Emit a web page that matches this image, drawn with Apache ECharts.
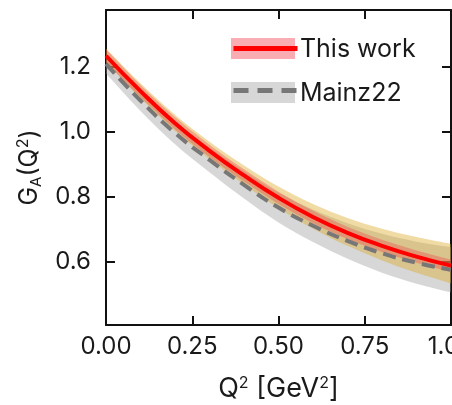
<!DOCTYPE html>
<html>
<head>
<meta charset="utf-8">
<script src="https://cdn.jsdelivr.net/npm/echarts@6/dist/echarts.min.js"></script>
<style>
html,body{margin:0;padding:0;background:#fff;}
#c{width:452px;height:405px;}
</style>
</head>
<body>
<div id="c"></div>
<script>
// ---- data ----
const q2 = [0.0, 0.1, 0.2, 0.3, 0.4, 0.5, 0.6, 0.7, 0.8, 0.9, 1.0];
// This work: central curve
const thisWork = [1.235, 1.126, 1.027, 0.942, 0.866, 0.797, 0.738, 0.689, 0.649, 0.616, 0.588];
const thisWorkLo = [1.215, 1.107, 1.008, 0.923, 0.847, 0.778, 0.719, 0.670, 0.630, 0.597, 0.569];
const thisWorkHi = [1.255, 1.145, 1.046, 0.961, 0.885, 0.816, 0.757, 0.708, 0.668, 0.635, 0.607];
// This work: wider (orange) band
const wideLo = [1.215, 1.104, 1.003, 0.916, 0.837, 0.765, 0.702, 0.649, 0.604, 0.566, 0.533];
const wideHi = [1.257, 1.150, 1.053, 0.970, 0.897, 0.832, 0.778, 0.735, 0.702, 0.676, 0.655];
// Mainz22
const mainz = [1.210, 1.097, 0.997, 0.914, 0.837, 0.767, 0.711, 0.664, 0.626, 0.597, 0.575];
const mainzLo = [1.180, 1.065, 0.962, 0.876, 0.795, 0.721, 0.661, 0.609, 0.566, 0.532, 0.505];
const mainzHi = [1.240, 1.129, 1.032, 0.952, 0.879, 0.813, 0.761, 0.719, 0.686, 0.662, 0.645];
// axes
const xTicks = [0.0, 0.25, 0.5, 0.75, 1.0];
const yTicks = [0.6, 0.8, 1.0, 1.2];
const xRange = [0, 1.0];
const yRange = [0.405, 1.376];
const legendNames = ['This work', 'Mainz22'];

// ---- styles ----
const FONT = 'Inter';
const FS = 24;
const TXT = '#1a1a1a';
const RED = '#ff0000';
const GRAYLINE = '#777777';
const GRAYBAND = 'rgba(150,150,150,0.38)';
const TANBAND = 'rgba(222,170,40,0.42)';
const REDBAND = 'rgba(240,40,55,0.30)';

const pairs = ys => q2.map((x, i) => [x, ys[i]]);

// Catmull-Rom style cubic segments through pixel points (from the axis scales)
function splineSegs(pts) {
  let d = '';
  const n = pts.length;
  for (let i = 0; i < n - 1; i++) {
    const p0 = pts[Math.max(i - 1, 0)], p1 = pts[i], p2 = pts[i + 1], p3 = pts[Math.min(i + 2, n - 1)];
    const c1 = [p1[0] + (p2[0] - p0[0]) / 6, p1[1] + (p2[1] - p0[1]) / 6];
    const c2 = [p2[0] - (p3[0] - p1[0]) / 6, p2[1] - (p3[1] - p1[1]) / 6];
    d += ' C' + c1[0] + ' ' + c1[1] + ' ' + c2[0] + ' ' + c2[1] + ' ' + p2[0] + ' ' + p2[1];
  }
  return d;
}

function bandSeries(name, lo, hi, color, z) {
  return {
    name: name, type: 'custom', silent: true, z: z, clip: true,
    data: pairs(hi),
    renderItem: function (params, api) {
      if (params.dataIndex !== 0) return null;
      const up = q2.map((x, i) => api.coord([x, hi[i]]));
      const dn = q2.map((x, i) => api.coord([x, lo[i]])).reverse();
      const d = 'M' + up[0][0] + ' ' + up[0][1] + splineSegs(up) +
        ' L' + dn[0][0] + ' ' + dn[0][1] + splineSegs(dn) + ' Z';
      return {
        type: 'path',
        shape: {pathData: d},
        style: {fill: color, stroke: null}
      };
    }
  };
}

const rich = {
  sub: {fontSize: 15, fontFamily: FONT, color: TXT, padding: [14, 0, 0, 0]},
  sup: {fontSize: 16, fontFamily: FONT, color: TXT, padding: [0, 0, 12, 0]}
};

const chart = echarts.init(document.getElementById('c'), null, {renderer: 'canvas'});
const axisLineStyle = {color: '#111', width: 2};
const tickStyle = {color: '#111', width: 2};
chart.setOption({
  animation: false,
  backgroundColor: '#fff',
  grid: {left: 106, right: 1, top: 10, bottom: 80, containLabel: false, outerBoundsMode: 'none'},
  xAxis: [{
    type: 'value', min: xRange[0], max: xRange[1], interval: 0.25,
    axisLine: {show: true, onZero: false, lineStyle: axisLineStyle},
    axisTick: {show: true, inside: true, length: 9, lineStyle: tickStyle},
    axisLabel: {show: true, fontSize: FS, fontFamily: FONT, color: TXT, margin: 10,
      customValues: xTicks, formatter: v => v.toFixed(2), hideOverlap: false},
    splitLine: {show: false},
    name: 'Q{sup|2} [GeV{sup|2}]', nameLocation: 'middle', nameGap: 50,
    nameTextStyle: {fontSize: 27, fontFamily: FONT, color: TXT, rich: rich}
  }, {
    type: 'value', position: 'top', min: xRange[0], max: xRange[1], interval: 0.25,
    axisLine: {show: true, onZero: false, lineStyle: axisLineStyle},
    axisTick: {show: true, inside: true, length: 9, lineStyle: tickStyle},
    axisLabel: {show: false}, splitLine: {show: false}
  }],
  yAxis: [{
    type: 'value', min: yRange[0], max: yRange[1],
    axisLine: {show: true, onZero: false, lineStyle: axisLineStyle},
    axisTick: {show: true, inside: true, length: 9, customValues: yTicks, lineStyle: tickStyle},
    axisLabel: {show: true, fontSize: FS, fontFamily: FONT, color: TXT, margin: 15,
      customValues: yTicks, formatter: v => v.toFixed(1)},
    splitLine: {show: false},
    name: 'G{sub|A}(Q{sup|2})', nameLocation: 'middle', nameGap: 62, nameRotate: 90,
    nameTextStyle: {fontSize: 25, fontFamily: FONT, color: TXT, rich: rich}
  }, {
    type: 'value', position: 'right', min: yRange[0], max: yRange[1],
    axisLine: {show: true, onZero: false, lineStyle: axisLineStyle},
    axisTick: {show: true, inside: true, length: 9, customValues: yTicks, lineStyle: tickStyle},
    axisLabel: {show: false}, splitLine: {show: false}
  }],
  legend: [{
    // band swatches
    orient: 'vertical', left: 231, top: 38, padding: 0, itemWidth: 64, itemHeight: 21, itemGap: 23,
    selectedMode: false, z: 3,
    data: [
      {name: 'This work band', icon: 'rect', itemStyle: {color: 'rgba(240,60,75,0.42)'}},
      {name: 'Mainz22 band', icon: 'rect', itemStyle: {color: 'rgba(150,150,150,0.38)'}}
    ],
    formatter: () => '',
    textStyle: {fontSize: 10, fontFamily: FONT}
  }, {
    // line swatches
    orient: 'vertical', left: 231, top: 38, padding: 0, itemWidth: 64, itemHeight: 21, itemGap: 23,
    selectedMode: false, z: 4,
    data: [
      {name: legendNames[0], itemStyle: {opacity: 0}, lineStyle: {width: 5}},
      {name: legendNames[1], itemStyle: {opacity: 0}, lineStyle: {width: 5, type: [15, 9]}}
    ],
    formatter: () => '',
    textStyle: {fontSize: 10, fontFamily: FONT}
  }, {
    // labels
    orient: 'vertical', left: 286, top: 37, padding: 0, itemWidth: 1, itemHeight: 21, itemGap: 19,
    selectedMode: false, z: 4,
    data: [
      {name: legendNames[0], itemStyle: {opacity: 0}, lineStyle: {opacity: 0}},
      {name: legendNames[1], itemStyle: {opacity: 0}, lineStyle: {opacity: 0}}
    ],
    textStyle: {fontSize: 25, fontFamily: FONT, color: TXT}
  }],
  series: [
    bandSeries('Mainz22 band', mainzLo, mainzHi, GRAYBAND, 2),
    bandSeries('This work wide band', wideLo, wideHi, TANBAND, 3),
    bandSeries('This work band', thisWorkLo, thisWorkHi, REDBAND, 4),
    {
      name: legendNames[1], type: 'line', data: pairs(mainz), smooth: true,
      symbol: 'none', silent: true, z: 5,
      lineStyle: {color: GRAYLINE, width: 4, type: [13, 7]}, itemStyle: {color: GRAYLINE}
    },
    {
      name: legendNames[0], type: 'line', data: pairs(thisWork), smooth: true,
      symbol: 'none', silent: true, z: 6,
      lineStyle: {color: RED, width: 4}, itemStyle: {color: RED}
    }
  ]
});
</script>
</body>
</html>
